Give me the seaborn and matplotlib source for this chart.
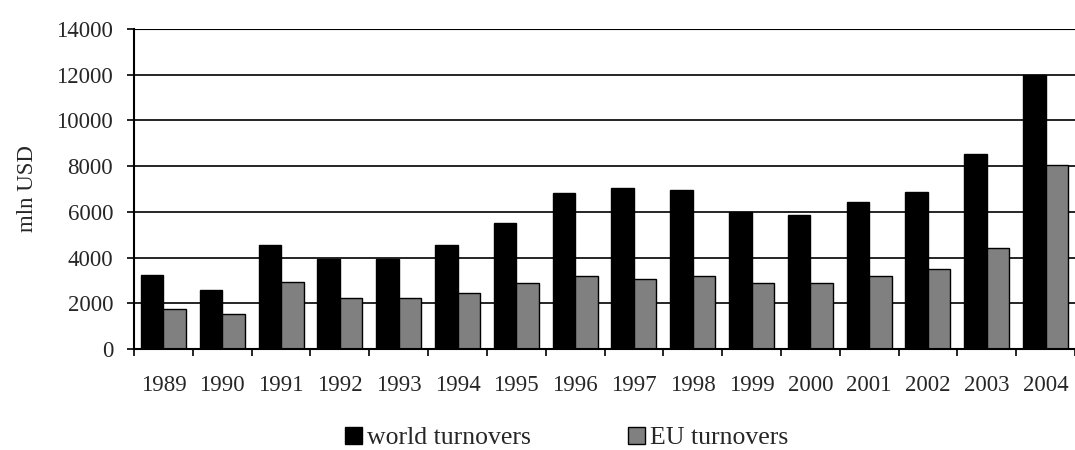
import pandas as pd
import seaborn as sns
import matplotlib.pyplot as plt
import numpy as np

# Data (mln USD)
years = ['1989', '1990', '1991', '1992', '1993', '1994', '1995', '1996',
         '1997', '1998', '1999', '2000', '2001', '2002', '2003', '2004']
world = [3250, 2600, 4550, 3950, 3950, 4550, 5500, 6830,
         7050, 6950, 6000, 5850, 6440, 6880, 8530, 11970]
eu = [1750, 1550, 2950, 2250, 2250, 2450, 2870, 3200,
      3050, 3200, 2880, 2880, 3200, 3490, 4430, 8070]
series = ['world turnovers', 'EU turnovers']

df = pd.DataFrame({'year': years * 2,
                   'value': world + eu,
                   'series': [series[0]] * len(years) + [series[1]] * len(years)})

sns.set_theme(style='white')
plt.rcParams['font.family'] = ['Liberation Serif', 'DejaVu Serif']

fig = plt.figure(figsize=(10.75, 4.5), dpi=100)
ax = fig.add_axes([0.1247, 0.2244, 0.8753, 0.7112])

# gridlines first so bars sit on top
for v in range(2000, 14001, 2000):
    ax.axhline(v, color='black', lw=1.2 if v < 14000 else 0.8, zorder=0)

sns.barplot(data=df, x='year', y='value', hue='series', hue_order=series,
            palette=['black', '#808080'], width=0.765, edgecolor='black',
            linewidth=1, saturation=1, ax=ax, zorder=2)

ax.set_ylim(0, 14000)
ax.set_xlim(-0.5, len(years) - 0.5)
ax.set_yticks(range(0, 14001, 2000))
ax.set_ylabel('mln USD', fontsize=16.5, labelpad=13)
ax.set_xlabel('')
ax.tick_params(axis='y', labelsize=16.5, direction='out', length=5, width=1.2,
               color='black', left=True, pad=10)
ax.tick_params(axis='x', which='major', labelsize=16.5, length=0, pad=19)
ax.set_xticks(np.arange(-0.5, len(years) - 0.4, 1), minor=True)
ax.tick_params(axis='x', which='minor', direction='out', length=5, width=1.2,
               color='black', bottom=True)

for s in ['top', 'right']:
    ax.spines[s].set_visible(False)
for s in ['left', 'bottom']:
    ax.spines[s].set_color('black')
    ax.spines[s].set_linewidth(1.5)

handles, labels = ax.get_legend_handles_labels()
ax.get_legend().remove()
fig.legend(handles, labels, loc='center', bbox_to_anchor=(0.527, 0.027),
           ncol=2, frameon=False, fontsize=18.5, handlelength=0.65,
           handleheight=0.65, handletextpad=0.2, columnspacing=3.8)

fig.savefig('out.png', dpi=100)
